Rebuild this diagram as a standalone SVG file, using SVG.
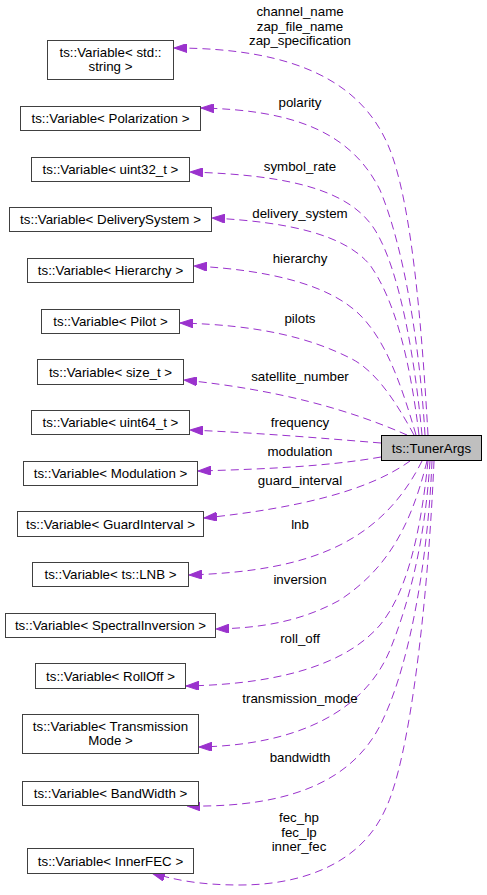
<svg xmlns="http://www.w3.org/2000/svg" width="487" height="895" viewBox="0 0 487 895">
<style>
text{font-family:"Liberation Sans",Arial,Helvetica,sans-serif;font-size:13.3px;fill:#000;text-anchor:middle}
.n rect{fill:#fff;stroke:#404040;stroke-width:1}
.root rect{fill:#bfbfbf;stroke:#000;stroke-width:1}
.e path{fill:none;stroke:#9a32cd;stroke-width:1;stroke-dasharray:8,5;marker-end:url(#ah)}
</style>
<defs>
<marker id="ah" viewBox="0 0 13 9" refX="13" refY="4.5" markerWidth="13" markerHeight="9" markerUnits="userSpaceOnUse" orient="auto">
<path d="M0,0 L13,4.5 L0,9 Z" fill="#9a32cd" stroke="#9a32cd" stroke-width="1"/>
</marker>
</defs>
<rect width="487" height="895" fill="#fff"/>
<g id="connectors" class="e">
<path d="M428,435 C422,330 412,200 388,145 C362,85 300,48 174,48"/>
<path d="M425,435 C420,350 405,250 380,190 C350,130 290,110 201,108"/>
<path d="M422,435 C415,360 400,270 375,230 C350,190 290,175 190,172"/>
<path d="M419,435 C410,360 395,300 370,265 C345,235 290,222 212,218"/>
<path d="M416,435 C400,380 385,340 360,315 C330,285 270,270 194,266"/>
<path d="M414,435 C395,400 375,370 350,358 C310,338 260,325 180,323"/>
<path d="M407,435 C350,410 280,390 184,380"/>
<path d="M381,443 C320,438 260,433 190,430"/>
<path d="M381,457 C330,466 270,469 198,471"/>
<path d="M410,461 C370,490 300,508 204,518"/>
<path d="M422,461 C405,495 380,525 340,545 C300,565 250,573 189,575"/>
<path d="M427,461 C410,530 385,570 340,600 C300,622 260,628 216,629"/>
<path d="M428,461 C420,540 405,595 380,625 C350,660 290,684 186,686"/>
<path d="M430,461 C425,540 410,600 390,650 C365,710 300,745 199,747"/>
<path d="M432,461 C428,560 410,660 385,715 C360,775 300,808 187,806"/>
<path d="M434,461 C428,600 410,760 385,810 C360,865 300,885 240,885 C200,885 175,880 152,873"/>
<text x="300" y="16">channel_name</text>
<text x="300" y="31">zap_file_name</text>
<text x="300" y="45">zap_specification</text>
<text x="300" y="107">polarity</text>
<text x="300" y="171">symbol_rate</text>
<text x="300" y="218">delivery_system</text>
<text x="300" y="263">hierarchy</text>
<text x="300" y="323">pilots</text>
<text x="300" y="381">satellite_number</text>
<text x="300" y="427">frequency</text>
<text x="300" y="456">modulation</text>
<text x="300" y="485">guard_interval</text>
<text x="300" y="529">lnb</text>
<text x="300" y="584">inversion</text>
<text x="300" y="643">roll_off</text>
<text x="300" y="703">transmission_mode</text>
<text x="300" y="762">bandwidth</text>
<text x="299" y="822">fec_hp</text>
<text x="299" y="836.5">fec_lp</text>
<text x="299" y="851">inner_fec</text>
</g>
<g id="TunerArgs" class="root"><rect x="381.5" y="435.5" width="100" height="25"/><text x="431.5" y="452.5">ts::TunerArgs</text></g>
<g id="VarString" class="n"><rect x="47.5" y="40.5" width="126" height="39"/><text x="110.5" y="56.5">ts::Variable&lt; std::</text><text x="110.5" y="71">string &gt;</text></g>
<g id="VarPolarization" class="n"><rect x="20.5" y="106.5" width="180" height="24"/><text x="110.5" y="123">ts::Variable&lt; Polarization &gt;</text></g>
<g id="VarUint32" class="n"><rect x="31.5" y="157.5" width="158" height="24"/><text x="110.5" y="174">ts::Variable&lt; uint32_t &gt;</text></g>
<g id="VarDeliverySystem" class="n"><rect x="9.5" y="207.5" width="202" height="24"/><text x="110.5" y="224">ts::Variable&lt; DeliverySystem &gt;</text></g>
<g id="VarHierarchy" class="n"><rect x="27.5" y="258.5" width="166" height="24"/><text x="110.5" y="275">ts::Variable&lt; Hierarchy &gt;</text></g>
<g id="VarPilot" class="n"><rect x="41.5" y="309.5" width="138" height="24"/><text x="110.5" y="326">ts::Variable&lt; Pilot &gt;</text></g>
<g id="VarSizeT" class="n"><rect x="37.5" y="359.5" width="146" height="25"/><text x="110.5" y="376.5">ts::Variable&lt; size_t &gt;</text></g>
<g id="VarUint64" class="n"><rect x="31.5" y="410.5" width="158" height="24"/><text x="110.5" y="427">ts::Variable&lt; uint64_t &gt;</text></g>
<g id="VarModulation" class="n"><rect x="23.5" y="461.5" width="174" height="24"/><text x="110.5" y="478">ts::Variable&lt; Modulation &gt;</text></g>
<g id="VarGuardInterval" class="n"><rect x="17.5" y="511.5" width="186" height="25"/><text x="110.5" y="528.5">ts::Variable&lt; GuardInterval &gt;</text></g>
<g id="VarLNB" class="n"><rect x="32.5" y="562.5" width="156" height="24"/><text x="110.5" y="579">ts::Variable&lt; ts::LNB &gt;</text></g>
<g id="VarSpectralInversion" class="n"><rect x="5.5" y="613.5" width="210" height="24"/><text x="110.5" y="630">ts::Variable&lt; SpectralInversion &gt;</text></g>
<g id="VarRollOff" class="n"><rect x="35.5" y="663.5" width="150" height="25"/><text x="110.5" y="680.5">ts::Variable&lt; RollOff &gt;</text></g>
<g id="VarTransmissionMode" class="n"><rect x="22.5" y="714.5" width="176" height="39"/><text x="110.5" y="731">ts::Variable&lt; Transmission</text><text x="110.5" y="745">Mode &gt;</text></g>
<g id="VarBandWidth" class="n"><rect x="22.5" y="781.5" width="176" height="24"/><text x="110.5" y="798">ts::Variable&lt; BandWidth &gt;</text></g>
<g id="VarInnerFEC" class="n"><rect x="27.5" y="848.5" width="166" height="25"/><text x="110.5" y="865.5">ts::Variable&lt; InnerFEC &gt;</text></g>
</svg>
